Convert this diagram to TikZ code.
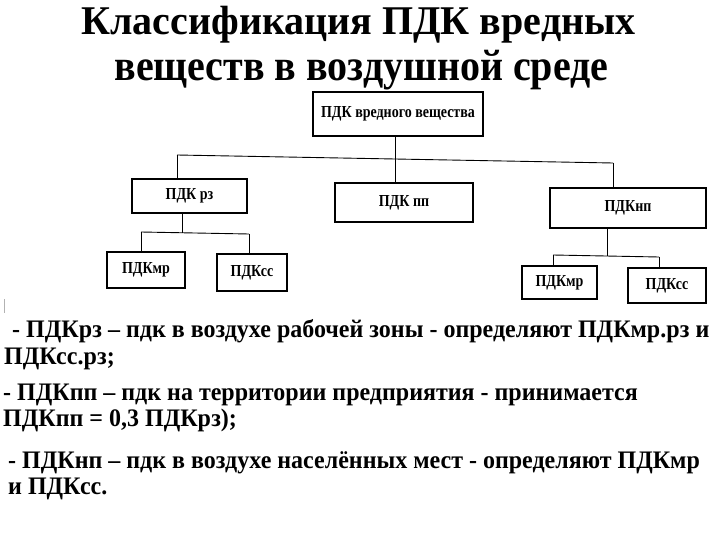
\documentclass[tikz,border=0pt]{standalone}
\usepackage{fontspec}
\setmainfont{Liberation Serif}
\newfontfamily\serifbold{Liberation Serif Bold}
\newcommand{\vstr}[2][1.12]{\scalebox{1}[#1]{#2}}
\begin{document}
\begin{tikzpicture}[x=1pt,y=-1pt,
  box/.style={draw,line width=1.1pt,inner sep=0pt,font=\serifbold\fontsize{14}{16}\selectfont},
  conn/.style={line width=0.9pt},
  body/.style={anchor=base west,inner sep=0pt,font=\serifbold\fontsize{24}{28}\selectfont},
  ttl/.style={anchor=base,inner sep=0pt,font=\serifbold\fontsize{40}{44}\selectfont}]
\useasboundingbox[fill=white] (0,0) rectangle (720,540);
% title
\node[ttl] (t1) at (358.5,35) {\vstr[1.02]{Классификация ПДК вредных}};
\node[ttl] (t2) at (361.5,81) {\vstr[1.1]{веществ в воздушной среде}};
% boxes
\node[box,minimum width=170pt,minimum height=44pt] (top) at (398,114) {\vstr[1.2]{ПДК вредного вещества}};
\node[box,minimum width=115pt,minimum height=34pt] (rz) at (189.5,196) {\vstr[1.2]{ПДК рз}};
\node[box,minimum width=138pt,minimum height=39pt] (pp) at (404,202.5) {\vstr[1.2]{ПДК пп}};
\node[box,minimum width=156pt,minimum height=40pt] (np) at (628,208) {\vstr[1.2]{ПДКнп}};
\node[box,minimum width=78pt,minimum height=36pt] (mrL) at (146,270) {\vstr[1.2]{ПДКмр}};
\node[box,minimum width=70pt,minimum height=37pt] (ssL) at (252,272.5) {\vstr[1.2]{ПДКсс}};
\node[box,minimum width=75pt,minimum height=33pt] (mrR) at (559.5,282.5) {\vstr[1.2]{ПДКмр}};
\node[box,minimum width=78pt,minimum height=35pt] (ssR) at (667,285.5) {\vstr[1.2]{ПДКсс}};
% connectors level 1
\coordinate (b1) at (177,155);
\coordinate (b2) at (613,163);
\coordinate (bm) at (395,159);
\draw[conn] (top.south -| bm) -- (pp.north -| bm);
\draw[conn] (b1) -- (b2);
\draw[conn] (b1) -- (rz.north -| b1);
\draw[conn] (b2) -- (np.north -| b2);
% connectors level 2 left
\coordinate (c1) at (141,232);
\coordinate (c2) at (249,234);
\coordinate (cm) at (182,233);
\draw[conn] (rz.south -| cm) -- (cm);
\draw[conn] (c1) -- (c2);
\draw[conn] (c1) -- (mrL.north -| c1);
\draw[conn] (c2) -- (ssL.north -| c2);
% connectors level 2 right
\coordinate (d1) at (553,255);
\coordinate (d2) at (659,257);
\coordinate (dm) at (607,256);
\draw[conn] (np.south -| dm) -- (dm);
\draw[conn] (d1) -- (d2);
\draw[conn] (d1) -- (mrR.north -| d1);
\draw[conn] (d2) -- (ssR.north -| d2);
% scan mark
\draw[gray!60,line width=0.8pt] (4,299) -- (4,313);
% body text
\node[body] (l1) at (12,337) {\vstr[1.05]{- ПДКрз – пдк в воздухе рабочей зоны - определяют ПДКмр.рз и}};
\node[body] (l2) at (4,364) {\vstr[1.05]{ПДКсс.рз;}};
\node[body] (l3) at (3,400) {\vstr[1.05]{- ПДКпп – пдк на территории предприятия - принимается}};
\node[body] (l4) at (3,426) {\vstr[1.05]{ПДКпп = 0,3 ПДКрз);}};
\node[body] (l5) at (8,468) {\vstr[1.05]{- ПДКнп – пдк в воздухе населённых мест - определяют ПДКмр}};
\node[body] (l6) at (8,494) {\vstr[1.05]{и ПДКсс.}};
\end{tikzpicture}
\end{document}
